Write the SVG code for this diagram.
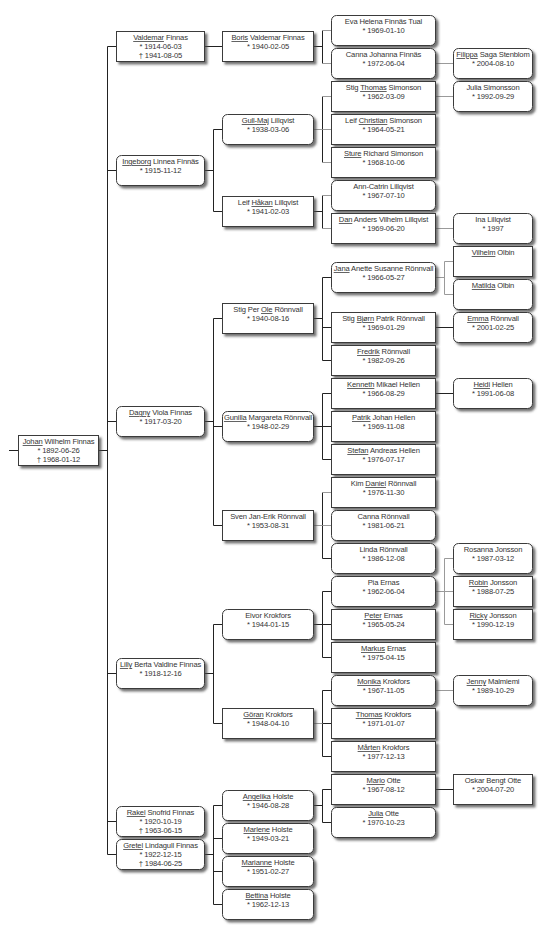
<svg xmlns="http://www.w3.org/2000/svg" width="545" height="933" viewBox="0 0 545 933">
<defs>
<filter id="sh" x="-10%" y="-20%" width="130%" height="160%"><feDropShadow dx="2.5" dy="2.5" stdDeviation="0.8" flood-color="#444" flood-opacity="0.75"/></filter>
</defs>
<style>
.b{fill:#fff;stroke:#3a3a3a;stroke-width:1;filter:url(#sh)}
text{font-family:"Liberation Sans",Arial,sans-serif;font-size:7.6px;fill:#333;text-anchor:middle;letter-spacing:-0.15px}
.u{text-decoration:underline}
.c{stroke:#222;stroke-width:1;fill:none}
.g{stroke:#9a9a9a;stroke-width:1;fill:none}
</style>
<rect width="545" height="933" fill="#fff"/>
<g id="connectors">
<path class="c" d="M9,450.5H18.5M98.5,450.5H107.5M107.5,46.5V854.5M107.5,46.5H116.5M107.5,170.5H116.5M107.5,421.5H116.5M107.5,673.5H116.5M107.5,821.5H116.5M107.5,854.5H116.5"/>
<path class="c" d="M204.5,46.5H222.5M204.5,170.5H213.5M213.5,129.5V211.5M213.5,129.5H222.5M213.5,211.5H222.5M204.5,421.5H213.5M213.5,318.5V525.5M213.5,318.5H222.5M213.5,426.5H222.5M213.5,525.5H222.5M204.5,673.5H213.5M213.5,624.5V723.5M213.5,624.5H222.5M213.5,723.5H222.5M204.5,854.5H213.5M213.5,805.5V904.5M213.5,805.5H222.5M213.5,838.5H222.5M213.5,871.5H222.5M213.5,904.5H222.5"/>
<path class="c" d="M313.5,46.5H322.5M322.5,30.5V63.5M322.5,96.5V162.5M313.5,211.5H322.5M322.5,195.5V228.5M313.5,318.5H322.5M322.5,277.5V360.5M322.5,277.5H331.5M322.5,327.5H331.5M322.5,360.5H331.5M313.5,426.5H322.5M322.5,393.5V459.5M322.5,393.5H331.5M322.5,426.5H331.5M322.5,459.5H331.5M322.5,492.5V558.5M322.5,558.5H331.5M313.5,624.5H322.5M322.5,591.5V657.5M322.5,591.5H331.5M322.5,624.5H331.5M322.5,657.5H331.5M322.5,690.5V756.5M322.5,690.5H331.5M322.5,723.5H331.5M322.5,756.5H331.5M313.5,805.5H322.5M322.5,789.5V822.5M322.5,789.5H331.5M322.5,822.5H331.5"/>
<path class="g" d="M322.5,30.5H331.5M322.5,63.5H331.5M313.5,129.5H322.5M322.5,96.5H331.5M322.5,129.5H331.5M322.5,162.5H331.5M322.5,195.5H331.5M322.5,228.5H331.5M313.5,525.5H322.5M322.5,492.5H331.5M322.5,525.5H331.5M313.5,723.5H322.5"/>
<path class="g" d="M435.5,63.5H453.5M435.5,96.5H453.5M435.5,228.5H453.5M435.5,277.5H444.5M444.5,261.5V294.5M444.5,261.5H453.5M444.5,294.5H453.5M435.5,591.5H444.5M444.5,558.5V624.5M444.5,558.5H453.5M444.5,591.5H453.5M444.5,624.5H453.5M435.5,690.5H453.5"/>
<path class="c" d="M435.5,327.5H453.5M435.5,393.5H453.5M435.5,789.5H453.5"/>
</g>
<g id="n-johan"><rect class="b" x="18.5" y="435.5" width="80" height="30"/><text x="58.5" y="444"><tspan class="u">Johan</tspan>  Wilhelm Finnas</text><text x="58.5" y="453">* 1892-06-26</text><text x="58.5" y="462">† 1968-01-12</text></g>
<g id="n-valdemar"><rect class="b" x="116.5" y="31.5" width="88" height="30"/><text x="160.5" y="40"><tspan class="u">Valdemar</tspan> Finnas</text><text x="160.5" y="49">* 1914-06-03</text><text x="160.5" y="58">† 1941-08-05</text></g>
<g id="n-ingeborg"><rect class="b" x="116.5" y="155.5" width="88" height="30" rx="5"/><text x="160.5" y="164"><tspan class="u">Ingeborg</tspan> Linnea Finnäs</text><text x="160.5" y="173">* 1915-11-12</text></g>
<g id="n-dagny"><rect class="b" x="116.5" y="406.5" width="88" height="30" rx="5"/><text x="160.5" y="415"><tspan class="u">Dagny</tspan> Viola Finnas</text><text x="160.5" y="424">* 1917-03-20</text></g>
<g id="n-lilly"><rect class="b" x="116.5" y="658.5" width="88" height="30" rx="5"/><text x="160.5" y="667"><tspan class="u">Lilly</tspan> Berta Valdine Finnas</text><text x="160.5" y="676">* 1918-12-16</text></g>
<g id="n-rakel"><rect class="b" x="116.5" y="806.5" width="88" height="30" rx="5"/><text x="160.5" y="815"><tspan class="u">Rakel</tspan> Snofrid Finnas</text><text x="160.5" y="824">* 1920-10-19</text><text x="160.5" y="833">† 1963-06-15</text></g>
<g id="n-gretel"><rect class="b" x="116.5" y="839.5" width="88" height="30" rx="5"/><text x="160.5" y="848"><tspan class="u">Gretel</tspan> Lindagull Finnas</text><text x="160.5" y="857">* 1922-12-15</text><text x="160.5" y="866">† 1984-06-25</text></g>
<g id="n-boris"><rect class="b" x="222.5" y="31.5" width="91" height="30"/><text x="268" y="40"><tspan class="u">Boris</tspan> Valdemar Finnas</text><text x="268" y="49">* 1940-02-05</text></g>
<g id="n-gullmaj"><rect class="b" x="222.5" y="114.5" width="91" height="30" rx="5"/><text x="268" y="123"><tspan class="u">Gull-Maj</tspan> Lillqvist</text><text x="268" y="132">* 1938-03-06</text></g>
<g id="n-leifhakan"><rect class="b" x="222.5" y="196.5" width="91" height="30"/><text x="268" y="205">Leif <tspan class="u">Håkan</tspan> Lillqvist</text><text x="268" y="214">* 1941-02-03</text></g>
<g id="n-stigperole"><rect class="b" x="222.5" y="303.5" width="91" height="30"/><text x="268" y="312">Stig Per <tspan class="u">Ole</tspan> Rönnvall</text><text x="268" y="321">* 1940-08-16</text></g>
<g id="n-gunilla"><rect class="b" x="222.5" y="411.5" width="91" height="30" rx="5"/><text x="268" y="420"><tspan class="u">Gunilla</tspan> Margareta Rönnvall</text><text x="268" y="429">* 1948-02-29</text></g>
<g id="n-sven"><rect class="b" x="222.5" y="510.5" width="91" height="30"/><text x="268" y="519">Sven Jan-Erik Rönnvall</text><text x="268" y="528">* 1953-08-31</text></g>
<g id="n-eivor"><rect class="b" x="222.5" y="609.5" width="91" height="30" rx="5"/><text x="268" y="618">Eivor Krokfors</text><text x="268" y="627">* 1944-01-15</text></g>
<g id="n-goran"><rect class="b" x="222.5" y="708.5" width="91" height="30"/><text x="268" y="717"><tspan class="u">Göran</tspan> Krokfors</text><text x="268" y="726">* 1948-04-10</text></g>
<g id="n-angelika"><rect class="b" x="222.5" y="790.5" width="91" height="30" rx="5"/><text x="268" y="799"><tspan class="u">Angelika</tspan> Holste</text><text x="268" y="808">* 1946-08-28</text></g>
<g id="n-marlene"><rect class="b" x="222.5" y="823.5" width="91" height="30" rx="5"/><text x="268" y="832"><tspan class="u">Marlene</tspan> Holste</text><text x="268" y="841">* 1949-03-21</text></g>
<g id="n-marianne"><rect class="b" x="222.5" y="856.5" width="91" height="30" rx="5"/><text x="268" y="865"><tspan class="u">Marianne</tspan> Holste</text><text x="268" y="874">* 1951-02-27</text></g>
<g id="n-bettina"><rect class="b" x="222.5" y="889.5" width="91" height="30" rx="5"/><text x="268" y="898"><tspan class="u">Bettina</tspan> Holste</text><text x="268" y="907">* 1962-12-13</text></g>
<g id="n-eva"><rect class="b" x="331.5" y="15.5" width="104" height="30" rx="5"/><text x="383.5" y="24">Eva Helena Finnäs Tual</text><text x="383.5" y="33">* 1969-01-10</text></g>
<g id="n-canna"><rect class="b" x="331.5" y="48.5" width="104" height="30" rx="5"/><text x="383.5" y="57">Canna Johanna Finnäs</text><text x="383.5" y="66">* 1972-06-04</text></g>
<g id="n-stigthomas"><rect class="b" x="331.5" y="81.5" width="104" height="30"/><text x="383.5" y="90">Stig <tspan class="u">Thomas</tspan> Simonson</text><text x="383.5" y="99">* 1962-03-09</text></g>
<g id="n-leifchristian"><rect class="b" x="331.5" y="114.5" width="104" height="30"/><text x="383.5" y="123">Leif <tspan class="u">Christian</tspan> Simonson</text><text x="383.5" y="132">* 1964-05-21</text></g>
<g id="n-sture"><rect class="b" x="331.5" y="147.5" width="104" height="30"/><text x="383.5" y="156"><tspan class="u">Sture</tspan> Richard Simonson</text><text x="383.5" y="165">* 1968-10-06</text></g>
<g id="n-anncatrin"><rect class="b" x="331.5" y="180.5" width="104" height="30" rx="5"/><text x="383.5" y="189">Ann-Catrin Lillqvist</text><text x="383.5" y="198">* 1967-07-10</text></g>
<g id="n-dan"><rect class="b" x="331.5" y="213.5" width="104" height="30"/><text x="383.5" y="222"><tspan class="u">Dan</tspan> Anders Vilhelm Lillqvist</text><text x="383.5" y="231">* 1969-06-20</text></g>
<g id="n-jana"><rect class="b" x="331.5" y="262.5" width="104" height="30" rx="5"/><text x="383.5" y="271"><tspan class="u">Jana</tspan> Anette Susanne Rönnvall</text><text x="383.5" y="280">* 1966-05-27</text></g>
<g id="n-stigbjorn"><rect class="b" x="331.5" y="312.5" width="104" height="30"/><text x="383.5" y="321">Stig <tspan class="u">Bjørn</tspan> Patrik Rönnvall</text><text x="383.5" y="330">* 1969-01-29</text></g>
<g id="n-fredrik"><rect class="b" x="331.5" y="345.5" width="104" height="30"/><text x="383.5" y="354"><tspan class="u">Fredrik</tspan> Rönnvall</text><text x="383.5" y="363">* 1982-09-26</text></g>
<g id="n-kenneth"><rect class="b" x="331.5" y="378.5" width="104" height="30"/><text x="383.5" y="387"><tspan class="u">Kenneth</tspan> Mikael Hellen</text><text x="383.5" y="396">* 1966-08-29</text></g>
<g id="n-patrik"><rect class="b" x="331.5" y="411.5" width="104" height="30"/><text x="383.5" y="420"><tspan class="u">Patrik</tspan> Johan Hellen</text><text x="383.5" y="429">* 1969-11-08</text></g>
<g id="n-stefan"><rect class="b" x="331.5" y="444.5" width="104" height="30"/><text x="383.5" y="453"><tspan class="u">Stefan</tspan> Andreas Hellen</text><text x="383.5" y="462">* 1976-07-17</text></g>
<g id="n-kim"><rect class="b" x="331.5" y="477.5" width="104" height="30"/><text x="383.5" y="486">Kim <tspan class="u">Daniel</tspan> Rönnvall</text><text x="383.5" y="495">* 1976-11-30</text></g>
<g id="n-cannar"><rect class="b" x="331.5" y="510.5" width="104" height="30" rx="5"/><text x="383.5" y="519">Canna Rönnvall</text><text x="383.5" y="528">* 1981-06-21</text></g>
<g id="n-linda"><rect class="b" x="331.5" y="543.5" width="104" height="30" rx="5"/><text x="383.5" y="552">Linda Rönnvall</text><text x="383.5" y="561">* 1986-12-08</text></g>
<g id="n-pia"><rect class="b" x="331.5" y="576.5" width="104" height="30" rx="5"/><text x="383.5" y="585">Pia Ernas</text><text x="383.5" y="594">* 1962-06-04</text></g>
<g id="n-peter"><rect class="b" x="331.5" y="609.5" width="104" height="30"/><text x="383.5" y="618"><tspan class="u">Peter</tspan> Ernas</text><text x="383.5" y="627">* 1965-05-24</text></g>
<g id="n-markus"><rect class="b" x="331.5" y="642.5" width="104" height="30"/><text x="383.5" y="651"><tspan class="u">Markus</tspan> Ernas</text><text x="383.5" y="660">* 1975-04-15</text></g>
<g id="n-monika"><rect class="b" x="331.5" y="675.5" width="104" height="30" rx="5"/><text x="383.5" y="684"><tspan class="u">Monika</tspan> Krokfors</text><text x="383.5" y="693">* 1967-11-05</text></g>
<g id="n-thomas"><rect class="b" x="331.5" y="708.5" width="104" height="30"/><text x="383.5" y="717"><tspan class="u">Thomas</tspan> Krokfors</text><text x="383.5" y="726">* 1971-01-07</text></g>
<g id="n-marten"><rect class="b" x="331.5" y="741.5" width="104" height="30"/><text x="383.5" y="750"><tspan class="u">Mårten</tspan> Krokfors</text><text x="383.5" y="759">* 1977-12-13</text></g>
<g id="n-mario"><rect class="b" x="331.5" y="774.5" width="104" height="30"/><text x="383.5" y="783"><tspan class="u">Mario</tspan> Otte</text><text x="383.5" y="792">* 1967-08-12</text></g>
<g id="n-julia"><rect class="b" x="331.5" y="807.5" width="104" height="30" rx="5"/><text x="383.5" y="816"><tspan class="u">Julia</tspan> Otte</text><text x="383.5" y="825">* 1970-10-23</text></g>
<g id="n-filippa"><rect class="b" x="453.5" y="48.5" width="79" height="30" rx="5"/><text x="493" y="57"><tspan class="u">Filippa</tspan> Saga Stenblom</text><text x="493" y="66">* 2004-08-10</text></g>
<g id="n-juliasimonsson"><rect class="b" x="453.5" y="81.5" width="79" height="30" rx="5"/><text x="493" y="90">Julia Simonsson</text><text x="493" y="99">* 1992-09-29</text></g>
<g id="n-ina"><rect class="b" x="453.5" y="213.5" width="79" height="30" rx="5"/><text x="493" y="222">Ina Lillqvist</text><text x="493" y="231">* 1997</text></g>
<g id="n-vilhelm"><rect class="b" x="453.5" y="246.5" width="79" height="30"/><text x="493" y="255"><tspan class="u">Vilhelm</tspan> Olbin</text></g>
<g id="n-matilda"><rect class="b" x="453.5" y="279.5" width="79" height="30" rx="5"/><text x="493" y="288"><tspan class="u">Matilda</tspan> Olbin</text></g>
<g id="n-emma"><rect class="b" x="453.5" y="312.5" width="79" height="30" rx="5"/><text x="493" y="321"><tspan class="u">Emma</tspan> Rönnvall</text><text x="493" y="330">* 2001-02-25</text></g>
<g id="n-heidi"><rect class="b" x="453.5" y="378.5" width="79" height="30" rx="5"/><text x="493" y="387"><tspan class="u">Heidi</tspan> Hellen</text><text x="493" y="396">* 1991-06-08</text></g>
<g id="n-rosanna"><rect class="b" x="453.5" y="543.5" width="79" height="30" rx="5"/><text x="493" y="552">Rosanna Jonsson</text><text x="493" y="561">* 1987-03-12</text></g>
<g id="n-robin"><rect class="b" x="453.5" y="576.5" width="79" height="30"/><text x="493" y="585"><tspan class="u">Robin</tspan> Jonsson</text><text x="493" y="594">* 1988-07-25</text></g>
<g id="n-ricky"><rect class="b" x="453.5" y="609.5" width="79" height="30"/><text x="493" y="618"><tspan class="u">Ricky</tspan> Jonsson</text><text x="493" y="627">* 1990-12-19</text></g>
<g id="n-jenny"><rect class="b" x="453.5" y="675.5" width="79" height="30" rx="5"/><text x="493" y="684"><tspan class="u">Jenny</tspan> Malmiemi</text><text x="493" y="693">* 1989-10-29</text></g>
<g id="n-oskar"><rect class="b" x="453.5" y="774.5" width="79" height="30"/><text x="493" y="783">Oskar Bengt Otte</text><text x="493" y="792">* 2004-07-20</text></g>
</svg>
